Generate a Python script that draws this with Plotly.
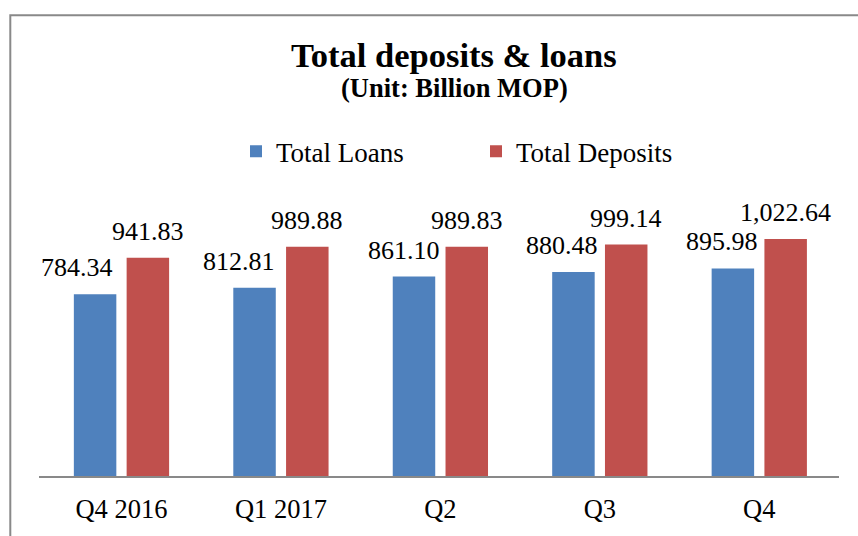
import plotly.graph_objects as go

categories = ["Q4 2016", "Q1 2017", "Q2", "Q3", "Q4"]
loans = [784.34, 812.81, 861.10, 880.48, 895.98]
deposits = [941.83, 989.88, 989.83, 999.14, 1022.64]

# label nudges (pixels) for the loans data labels, as placed in the original
loan_label_nudge = [-18, -15, -10, -11, -11]

FONT = "Liberation Serif"
BLUE = "#4F81BD"
RED = "#C0504D"

W, H = 858, 536
L, R, T, B = 39, 19, 198, 56
pw = W - L - R
ph = H - T - B

fig = go.Figure()
fig.add_trace(go.Bar(name="Total Loans", x=categories, y=loans,
                     marker=dict(color=BLUE, line=dict(width=0))))
fig.add_trace(go.Bar(name="Total Deposits", x=categories, y=deposits,
                     marker=dict(color=RED, line=dict(width=0))))

bargap = 0.338
bargroupgap = 0.195
slot = pw / len(categories) * (1 - bargap) / 2

annotations = []
for i, c in enumerate(categories):
    annotations.append(dict(x=c, y=loans[i], xref="x", yref="y",
                            text=f"{loans[i]:,.2f}", showarrow=False,
                            xanchor="center", yanchor="bottom",
                            xshift=-slot / 2 + loan_label_nudge[i], yshift=10,
                            font=dict(family=FONT, size=26, color="#000")))
    annotations.append(dict(x=c, y=deposits[i], xref="x", yref="y",
                            text=f"{deposits[i]:,.2f}", showarrow=False,
                            xanchor="center", yanchor="bottom",
                            xshift=slot / 2, yshift=10,
                            font=dict(family=FONT, size=26, color="#000")))

def px_to_paper_x(px):
    return (px - L) / pw

def px_to_paper_y(py):
    return (H - B - py) / ph

annotations.append(dict(x=px_to_paper_x(454), y=px_to_paper_y(53), xref="paper", yref="paper",
                        text="<b>Total deposits &amp; loans</b>", showarrow=False,
                        xanchor="center", yanchor="middle",
                        font=dict(family=FONT, size=34.5, color="#000")))
annotations.append(dict(x=px_to_paper_x(454), y=px_to_paper_y(86), xref="paper", yref="paper",
                        text="<b>(Unit: Billion MOP)</b>", showarrow=False,
                        xanchor="center", yanchor="middle",
                        font=dict(family=FONT, size=26.5, color="#000")))

fig.update_layout(
    width=W, height=H,
    margin=dict(l=L, r=R, t=T, b=B, pad=0),
    paper_bgcolor="white", plot_bgcolor="white",
    barmode="group", bargap=bargap, bargroupgap=bargroupgap,
    font=dict(family=FONT, size=26, color="#000"),
    showlegend=True,
    legend=dict(orientation="h", x=px_to_paper_x(236), xanchor="left",
                y=px_to_paper_y(151), yanchor="middle",
                font=dict(family=FONT, size=27, color="#000"),
                entrywidth=195, entrywidthmode="pixels",
                bgcolor="rgba(0,0,0,0)"),
    xaxis=dict(showline=True, linecolor="#898989", linewidth=1.5,
               showgrid=False, zeroline=False, ticks="",
               tickfont=dict(family=FONT, size=26.5, color="#000"),
               ticklabelstandoff=8),
    yaxis=dict(range=[0, 1200], visible=False, showgrid=False, zeroline=False),
    annotations=annotations,
    shapes=[dict(type="rect", xref="paper", yref="paper",
                 x0=px_to_paper_x(10.3), x1=px_to_paper_x(W + 20),
                 y0=px_to_paper_y(H + 20), y1=px_to_paper_y(12.5),
                 line=dict(color="#898989", width=2), fillcolor="rgba(0,0,0,0)",
                 layer="below")],
)

fig.write_html("out.html")
